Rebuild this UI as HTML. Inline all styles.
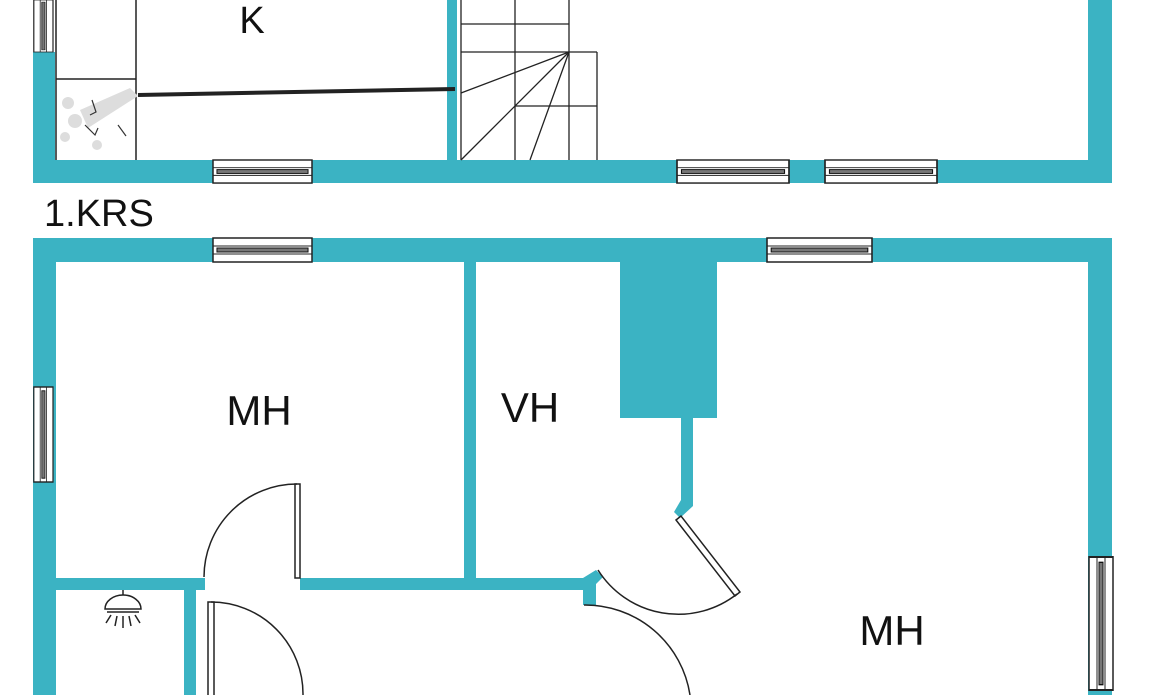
<!DOCTYPE html>
<html><head><meta charset="utf-8"><style>
html,body{margin:0;padding:0;background:#fff;width:1168px;height:695px;overflow:hidden}
svg{display:block}
text{font-family:"Liberation Sans",sans-serif;fill:#111}
</style></head><body>
<svg width="1168" height="695" viewBox="0 0 1168 695" xmlns="http://www.w3.org/2000/svg">
<defs>
<g id="winH">
<rect x="0" y="0" width="100" height="24" fill="#fff" stroke="#222" stroke-width="1.5"/>
<line x1="0" y1="8" x2="100" y2="8" stroke="#222" stroke-width="1"/>
<line x1="0" y1="16" x2="100" y2="16" stroke="#222" stroke-width="1"/>
<rect x="4" y="10" width="92" height="4" fill="#777" stroke="#111" stroke-width="1"/>
</g>
</defs>
<g fill="#3bb3c3">
<rect x="33" y="52" width="22" height="131"/>
<rect x="33" y="160" width="1079" height="23"/>
<rect x="1088" y="0" width="24" height="183"/>
<rect x="447" y="0" width="10" height="160"/>
<rect x="33" y="238" width="1079" height="24"/>
<rect x="33" y="238" width="23" height="457"/>
<rect x="1088" y="238" width="24" height="457"/>
<rect x="464" y="262" width="12" height="320"/>
<rect x="55" y="578" width="150" height="12"/>
<rect x="300" y="578" width="292" height="12"/>
<rect x="184" y="590" width="12" height="105"/>
<rect x="620" y="262" width="97" height="156"/>
<rect x="681" y="418" width="12" height="88"/>
<polygon points="681,500 693,500 693,506 680,518 674,512"/>
<polygon points="583,578 596,570 603,577 596,584 596,605 583,605"/>
</g>
<use href="#winH" transform="translate(213,160) scale(0.99,0.96)"/>
<use href="#winH" transform="translate(677,160) scale(1.12,0.96)"/>
<use href="#winH" transform="translate(825,160) scale(1.12,0.96)"/>
<use href="#winH" transform="translate(213,238) scale(0.99,1)"/>
<use href="#winH" transform="translate(767,238) scale(1.05,1)"/>
<use href="#winH" transform="translate(53,387) rotate(90) scale(0.95,0.8)"/>
<use href="#winH" transform="translate(53,0) rotate(90) scale(0.52,0.8)"/>
<use href="#winH" transform="translate(1113,557) rotate(90) scale(1.33,1)"/>
<g stroke="#222" stroke-width="1.5" fill="none">
<line x1="56" y1="0" x2="56" y2="160"/>
<line x1="136" y1="0" x2="136" y2="160"/>
<line x1="56" y1="79" x2="136" y2="79"/>
</g>
<g fill="#ddd">
<circle cx="68" cy="103" r="6"/><circle cx="75" cy="121" r="7"/><circle cx="65" cy="137" r="5"/><circle cx="97" cy="145" r="5"/>
<polygon points="80,110 130,88 138,96 88,128"/>
</g>
<g stroke="#333" stroke-width="1.2" fill="none">
<path d="M92 100 L96 112 L90 115"/><path d="M85 125 L95 135 L98 128"/><path d="M118 125 L126 136"/>
</g>
<line x1="138" y1="95" x2="455" y2="89" stroke="#222" stroke-width="4"/>
<g stroke="#222" stroke-width="1.3" fill="none">
<line x1="461" y1="0" x2="461" y2="160"/>
<line x1="515" y1="0" x2="515" y2="160"/>
<line x1="569" y1="0" x2="569" y2="160"/>
<line x1="597" y1="52" x2="597" y2="160"/>
<line x1="461" y1="24" x2="569" y2="24"/>
<line x1="461" y1="52" x2="597" y2="52"/>
<line x1="515" y1="106" x2="597" y2="106"/>
<line x1="569" y1="52" x2="461" y2="93"/>
<line x1="569" y1="52" x2="461" y2="160"/>
<line x1="569" y1="52" x2="530" y2="160"/>
</g>
<g stroke="#222" stroke-width="1.5" fill="none">
<rect x="295" y="484" width="5" height="94" fill="#fff"/>
<path d="M297 484 A93 93 0 0 0 204 577"/>
<rect x="208" y="602" width="6" height="95" fill="#fff"/>
<path d="M211 602 A92 92 0 0 1 303 695"/>
<polygon points="676,520 681,516 740,592 735,596" fill="#fff"/>
<path d="M737 594 A95 95 0 0 1 598 570"/>
<path d="M584 605 A106 106 0 0 1 690 695"/>
</g>
<g stroke="#222" stroke-width="1.5" fill="none">
<line x1="123" y1="590" x2="123" y2="595"/>
<path d="M105 609 A18 14 0 0 1 141 609 Z"/>
<line x1="107" y1="612" x2="139" y2="612"/>
<line x1="111" y1="615" x2="106" y2="623"/><line x1="117" y1="616" x2="115" y2="626"/>
<line x1="123" y1="616" x2="123" y2="628"/><line x1="129" y1="616" x2="131" y2="626"/><line x1="135" y1="615" x2="140" y2="623"/>
</g>
<text x="252" y="33" font-size="38" text-anchor="middle">K</text>
<text x="44" y="226" font-size="38">1.KRS</text>
<text x="259" y="425" font-size="42" text-anchor="middle">MH</text>
<text x="530" y="422" font-size="42" text-anchor="middle">VH</text>
<text x="892" y="645" font-size="42" text-anchor="middle">MH</text>
</svg>
</body></html>
